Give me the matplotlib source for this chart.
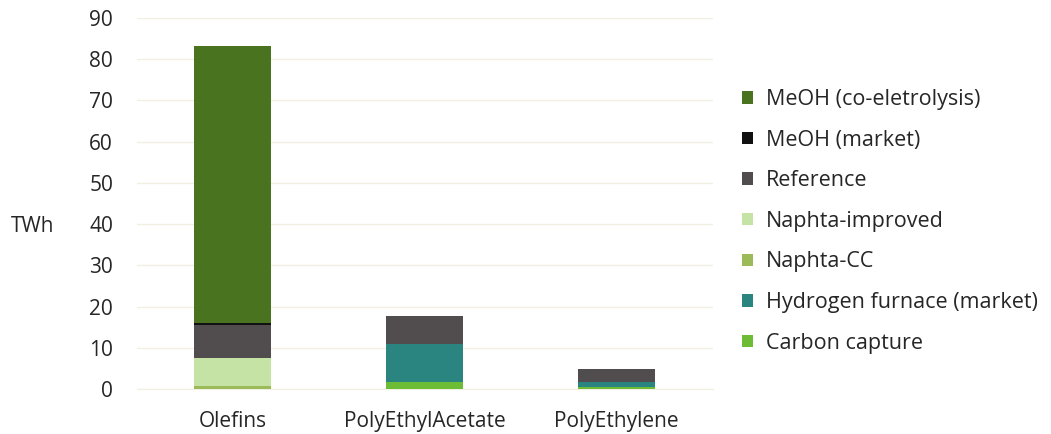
import matplotlib
matplotlib.use("Agg")
import matplotlib.pyplot as plt
from matplotlib.patches import Patch
import numpy as np

plt.rcParams['font.family'] = ['Open Sans', 'DejaVu Sans']

categories = ["Olefins", "PolyEthylAcetate", "PolyEthylene"]

# Stack order from the bottom up
series_names = [
    "Carbon capture",
    "Hydrogen furnace (market)",
    "Naphta-CC",
    "Naphta-improved",
    "Reference",
    "MeOH (market)",
    "MeOH (co-eletrolysis)",
]
carbon_capture = [0.0, 1.8, 0.5]
hydrogen_furnace = [0.0, 9.1, 1.3]
naphta_cc = [0.7, 0.0, 0.0]
naphta_improved = [6.9, 0.0, 0.0]
reference = [7.9, 6.8, 3.0]
meoh_market = [0.6, 0.0, 0.0]
meoh_coel = [67.1, 0.0, 0.0]

series_values = [carbon_capture, hydrogen_furnace, naphta_cc, naphta_improved,
                 reference, meoh_market, meoh_coel]
colors = ["#6cbd35", "#2a8580", "#9bbb59", "#c5e3a5", "#514d4e", "#111111", "#4a7320"]

fig = plt.figure(figsize=(10.51, 4.34), dpi=100)
ax = fig.add_axes([0.130, 0.1037, 0.548, 0.8548])

x = np.arange(len(categories))
bottom = np.zeros(len(categories))
for name, vals, col in zip(series_names, series_values, colors):
    vals = np.array(vals)
    ax.bar(x, vals, width=0.4, bottom=bottom, color=col, label=name, zorder=3)
    bottom += vals

ax.set_xlim(-0.5, 2.5)
ax.set_ylim(0, 90)
ax.set_yticks(np.arange(0, 91, 10))
ax.yaxis.grid(True, color="#f0efe2", linewidth=1.0, zorder=0)
ax.set_axisbelow(True)
for s in ax.spines.values():
    s.set_visible(False)
ax.spines['bottom'].set_visible(True)
ax.spines['bottom'].set_color("#f0efe2")
ax.tick_params(axis='both', length=0, labelsize=15, colors="#262626")
ax.tick_params(axis='y', pad=17)
ax.tick_params(axis='x', pad=16)
ax.set_xticks(x)
ax.set_xticklabels(categories)

fig.text(0.010, 0.478, "TWh", fontsize=15, color="#262626", va="center", ha="left")

handles = [Patch(facecolor=c, label=n) for n, c in zip(series_names, colors)][::-1]
fig.legend(handles=handles, loc="center left", bbox_to_anchor=(0.6875, 0.490),
           frameon=False, fontsize=15.5, handlelength=0.5, handleheight=0.5,
           handletextpad=0.6, labelspacing=0.91, labelcolor="#262626")

fig.savefig("out.png", dpi=100)
